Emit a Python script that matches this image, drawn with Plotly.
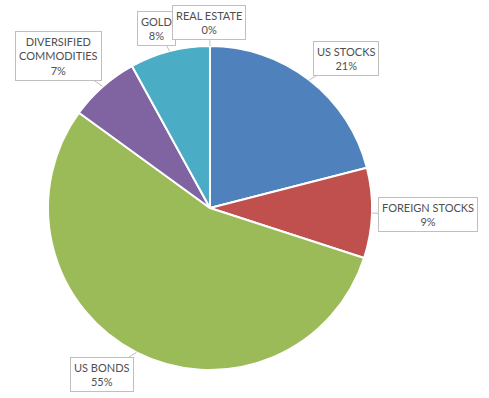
import math
import plotly.graph_objects as go

categories = ["US STOCKS", "FOREIGN STOCKS", "US BONDS", "DIVERSIFIED<br>COMMODITIES", "GOLD", "REAL ESTATE"]
values = [21, 9, 55, 7, 8, 0]
pct_labels = ["21%", "9%", "55%", "7%", "8%", "0%"]
colors = ["#4F81BD", "#C0504D", "#9BBB59", "#8064A2", "#4BACC6", "#F79646"]

W, H = 489, 398
CX, CY, R = 210, 208, 162  # pie centre / radius in pixels

fig = go.Figure(go.Pie(
    labels=categories, values=values, sort=False, direction="clockwise", rotation=0,
    marker=dict(colors=colors, line=dict(color="white", width=2)),
    textinfo="none", hoverinfo="label+percent", showlegend=False,
    domain=dict(x=[(CX - R) / W, (CX + R) / W], y=[(H - CY - R) / H, (H - CY + R) / H]),
))

# label box centres (pixels)
boxes = [(346, 58), (428, 214), (102, 374), (58, 56), (156, 28), (209, 23)]

total = sum(values)
cum = 0
for cat, v, p, (bx, by) in zip(categories, values, pct_labels, boxes):
    mid = (cum + v / 2) / total * 2 * math.pi
    cum += v
    px = CX + R * math.sin(mid)
    py = CY - R * math.cos(mid)
    fig.add_annotation(
        x=px / W, y=1 - py / H, xref="paper", yref="paper",
        text=f"{cat}<br>{p}", showarrow=True, arrowhead=0, arrowwidth=1,
        arrowcolor="#BFBFBF", ax=bx - px, ay=by - py,
        bordercolor="#BFBFBF", borderwidth=1, borderpad=3, bgcolor="white",
        align="center",
        font=dict(family="Lato, Liberation Sans, Arial", size=11, color="#505050"),
    )

fig.update_layout(width=W, height=H, margin=dict(l=0, r=0, t=0, b=0), autosize=False,
                  paper_bgcolor="white", plot_bgcolor="white")
fig.write_html("out.html", config={"displayModeBar": False},
               post_script="document.body.style.margin='0';document.body.style.overflow='hidden';")
